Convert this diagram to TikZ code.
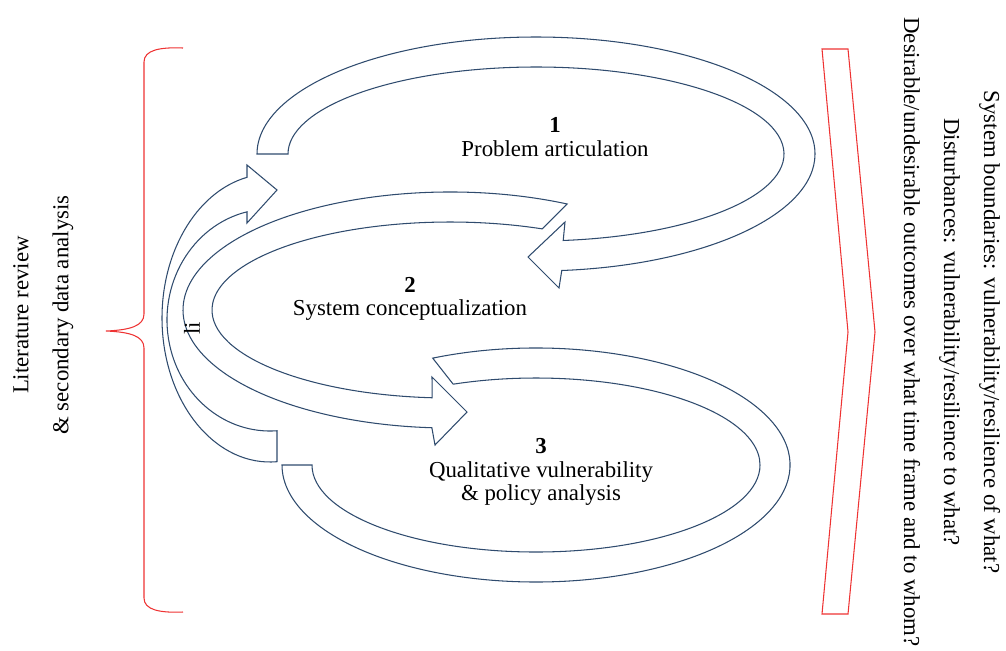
\documentclass[tikz,border=0pt]{standalone}
\usepackage{fontspec}
\setmainfont{Liberation Serif}
\usetikzlibrary{calc}
\definecolor{loopblue}{HTML}{2F4B6E}
\definecolor{bracered}{HTML}{EE3333}
\begin{document}
\begin{tikzpicture}[x=0.02cm, y=-0.02cm,
        loopband/.style={draw=loopblue, fill=white, line width=0.6pt, line join=miter},
        redline/.style={draw=bracered, line width=0.6pt},
        lbl/.style={align=center, font=\fontsize{13}{13.4}\selectfont},
        sidetext/.style={font=\fontsize{13}{15}\selectfont}]
    \useasboundingbox (0,0) rectangle (1006,650);
    \coordinate (c1) at (536,154);
    \coordinate (c2) at (450,310);
    \coordinate (c3) at (536,465);
    \coordinate (c4) at (270,318);
    \coordinate (c5) at (270,320);

    % loop 1
    \draw[loopband] ($(c1)+(180:279 and 117)$) arc[start angle=180, end angle=444.7, x radius=279, y radius=117]
        -- (559,288) -- (528,257) -- (565,222)
        -- ($(c1)+(443.7:248 and 87)$) arc[start angle=443.7, end angle=180, x radius=248, y radius=87] -- cycle;
    % loop 2
    \draw[loopband] ($(c2)+(-64:267 and 118)$) arc[start angle=-64, end angle=-266.1, x radius=267, y radius=118]
        -- (435,445) -- (467,412) -- (432,377)
        -- ($(c2)+(-265.7:238 and 88)$) arc[start angle=-265.7, end angle=-67.2, x radius=238, y radius=88] -- cycle;
    % loop 3
    \draw[loopband] ($(c3)+(-114:254 and 117)$) arc[start angle=-114, end angle=180, x radius=254, y radius=117]
        -- ($(c3)+(180:224 and 87)$) arc[start angle=180, end angle=-111.7, x radius=224, y radius=87] -- cycle;
    % left curved arrow
    \draw[loopband] ($(c4)+(86.3:108 and 144)$) arc[start angle=86.3, end angle=257.7, x radius=108, y radius=144]
        -- (247,165) -- (277,190) -- (247,223)
        -- ($(c5)+(257.1:103 and 111)$) arc[start angle=257.1, end angle=86.1, x radius=103, y radius=111] -- cycle;

    \node[lbl] (p1) at (555,137) {\textbf{1}\\Problem articulation};
    \node[lbl] (p2) at (410,299) {\textbf{2}\\System conceptualization};
    \node[lbl] (p3) at (541,472) {\textbf{3}\\Qualitative vulnerability\\\& policy analysis};
    \node[sidetext, rotate=90] (li) at (192,328) {li};

    % brace and chevron
    \draw[redline] (183,48) .. controls (160,47) and (144,50) .. (144,62) -- (144,314)
        .. controls (144,326) and (130,330) .. (106,331)
        .. controls (130,332) and (144,336) .. (144,348) -- (144,598)
        .. controls (144,610) and (160,613) .. (183,612);
    \draw[redline] (822,49) -- (848,49) -- (875,332) -- (848,614) -- (822,614) -- (848,332) -- cycle;

    \node[sidetext, rotate=90] (lit) at (21,315) {Literature review};
    \node[sidetext, rotate=90] (sec) at (63,315) {\& secondary data analysis};
    \node[sidetext, rotate=-90, align=center, font=\fontsize{13}{22.8}\selectfont] (qs) at (952,332)
        {System boundaries: vulnerability/resilience of what?\\
         Disturbances: vulnerability/resilience to what?\\
         Desirable/undesirable outcomes over what time frame and to whom?};
\end{tikzpicture}
\end{document}
